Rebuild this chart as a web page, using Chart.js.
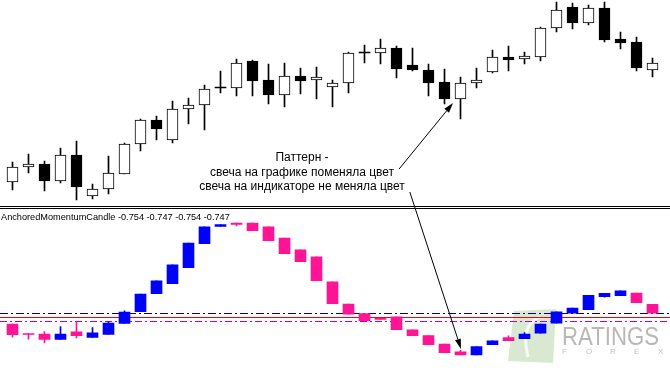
<!DOCTYPE html>
<html>
<head>
<meta charset="utf-8">
<script src="https://cdn.jsdelivr.net/npm/chart.js@4.4.1/dist/chart.umd.min.js"></script>
<style>
  html, body { margin: 0; padding: 0; background: #fff; }
  #wrap { position: relative; width: 670px; height: 370px; overflow: hidden; }
  #price { position: absolute; left: 0; top: 0; }
  #sep { position: absolute; left: 0; top: 206px; width: 670px; height: 1px;
         border-top: 1px solid #000; border-bottom: 1px solid #000; }
  #ind { position: absolute; left: 0; top: 209px; }
  #overlay { position: absolute; left: 0; top: 0; pointer-events: none; }
</style>
</head>
<body>
<div id="wrap">
  <canvas id="price" width="670" height="205"></canvas>
  <div id="sep"></div>
  <canvas id="ind" width="670" height="161"></canvas>
  <canvas id="overlay" width="670" height="370"></canvas>
</div>
<script>
// bars 1..41
const labels = Array.from({ length: 41 }, (_, i) => String(i + 1));

// price candles (top panel)
const priceOpen  = [1.3023, 1.3038, 1.3041, 1.3024, 1.3050, 1.3009, 1.3016, 1.3031, 1.3061, 1.3085, 1.3065, 1.3096, 1.3100, 1.3117, 1.3117, 1.3144, 1.3125, 1.3110, 1.3129, 1.3125, 1.3118, 1.3122, 1.3152, 1.3152, 1.3157, 1.3140, 1.3135, 1.3123, 1.3106, 1.3122, 1.3133, 1.3148, 1.3146, 1.3148, 1.3177, 1.3198, 1.3182, 1.3197, 1.3166, 1.3163, 1.3135];
const priceHigh  = [1.3043, 1.3051, 1.3044, 1.3057, 1.3064, 1.3021, 1.3049, 1.3062, 1.3086, 1.3089, 1.3104, 1.3107, 1.3120, 1.3134, 1.3146, 1.3145, 1.3141, 1.3142, 1.3137, 1.3138, 1.3125, 1.3153, 1.3160, 1.3166, 1.3159, 1.3157, 1.3141, 1.3136, 1.3128, 1.3137, 1.3155, 1.3159, 1.3153, 1.3178, 1.3203, 1.3202, 1.3200, 1.3203, 1.3173, 1.3168, 1.3147];
const priceLow   = [1.3015, 1.3032, 1.3014, 1.3022, 1.3005, 1.3006, 1.3011, 1.3031, 1.3054, 1.3065, 1.3062, 1.3081, 1.3075, 1.3112, 1.3109, 1.3109, 1.3101, 1.3098, 1.3111, 1.3106, 1.3098, 1.3112, 1.3142, 1.3141, 1.3127, 1.3134, 1.3109, 1.3101, 1.3086, 1.3117, 1.3132, 1.3134, 1.3141, 1.3144, 1.3173, 1.3176, 1.3180, 1.3163, 1.3156, 1.3134, 1.3128];
const priceClose = [1.3038, 1.3041, 1.3024, 1.3050, 1.3018, 1.3016, 1.3032, 1.3061, 1.3085, 1.3076, 1.3096, 1.3100, 1.3116, 1.3117, 1.3142, 1.3124, 1.3110, 1.3129, 1.3124, 1.3128, 1.3122, 1.3152, 1.3152, 1.3157, 1.3136, 1.3135, 1.3122, 1.3106, 1.3122, 1.3125, 1.3148, 1.3145, 1.3149, 1.3177, 1.3195, 1.3182, 1.3197, 1.3165, 1.3162, 1.3137, 1.3142];

// AnchoredMomentumCandle (bottom panel)
const indOpen  = [-0.7624, -0.7698, -0.7702, -0.7745, -0.7686, -0.7729, -0.7706, -0.7620, -0.7528, -0.7387, -0.7309, -0.7185, -0.6997, -0.6862, -0.6836, -0.6836, -0.6867, -0.6953, -0.7046, -0.7101, -0.7296, -0.7468, -0.7543, -0.7579, -0.7569, -0.7670, -0.7715, -0.7780, -0.7842, -0.7865, -0.7785, -0.7731, -0.7738, -0.7696, -0.7618, -0.7540, -0.7512, -0.7411, -0.7403, -0.7382, -0.7470];
const indHigh  = [-0.7624, -0.7698, -0.7684, -0.7645, -0.7606, -0.7653, -0.7608, -0.7522, -0.7390, -0.7288, -0.7163, -0.6992, -0.6867, -0.6849, -0.6836, -0.6836, -0.6867, -0.6953, -0.7046, -0.7101, -0.7296, -0.7468, -0.7543, -0.7579, -0.7569, -0.7670, -0.7715, -0.7780, -0.7830, -0.7801, -0.7756, -0.7717, -0.7692, -0.7624, -0.7530, -0.7499, -0.7400, -0.7384, -0.7366, -0.7382, -0.7470];
const indLow   = [-0.7727, -0.7743, -0.7770, -0.7745, -0.7733, -0.7729, -0.7706, -0.7620, -0.7528, -0.7387, -0.7309, -0.7185, -0.6997, -0.6862, -0.6859, -0.6896, -0.6974, -0.7075, -0.7138, -0.7286, -0.7465, -0.7548, -0.7598, -0.7589, -0.7668, -0.7715, -0.7785, -0.7848, -0.7865, -0.7865, -0.7785, -0.7754, -0.7738, -0.7696, -0.7618, -0.7540, -0.7512, -0.7415, -0.7403, -0.7458, -0.7540];
const indClose = [-0.7707, -0.7706, -0.7745, -0.7702, -0.7715, -0.7694, -0.7616, -0.7532, -0.7390, -0.7288, -0.7163, -0.6992, -0.6867, -0.6849, -0.6848, -0.6896, -0.6974, -0.7075, -0.7138, -0.7286, -0.7465, -0.7548, -0.7598, -0.7589, -0.7668, -0.7715, -0.7785, -0.7848, -0.7865, -0.7801, -0.7756, -0.7754, -0.7702, -0.7624, -0.7530, -0.7499, -0.7400, -0.7384, -0.7366, -0.7458, -0.7540];

// indicator levels: dash-dot navy, solid red, dashed magenta
const indLevels = [-0.754, -0.757, -0.760];
const levelStyles = [
  { color: '#000080', dash: [8, 3, 2, 3] },
  { color: '#ff0000', dash: [] },
  { color: '#c000c0', dash: [7, 3, 2, 3] }
];

const indTitle = 'AnchoredMomentumCandle -0.754 -0.747 -0.754 -0.747';
const noteLines = ['Паттерн -', 'свеча на графике поменяла цвет', 'свеча на индикаторе не меняла цвет'];

const UP_IND = '#0000ff';
const DN_IND = '#ff1493';

const baseOptions = (yMin, yMax) => ({
  responsive: false,
  animation: false,
  events: [],
  layout: { padding: { left: 4.5, right: 9.5, top: 0, bottom: 0 } },
  plugins: { legend: { display: false }, tooltip: { enabled: false } },
  scales: {
    x: { display: false },
    y: { display: false, min: yMin, max: yMax }
  }
});

// white body for up candles, black for down and for dojis (drawn as a line)
const bodyColors = labels.map((_, i) => priceClose[i] > priceOpen[i] ? '#fff' : '#000');

// top panel: price candles
const priceChart = new Chart(document.getElementById('price'), {
  type: 'bar',
  data: {
    labels: labels,
    datasets: [
      {
        data: labels.map((_, i) => [priceLow[i], priceHigh[i]]),
        backgroundColor: '#000',
        barThickness: 1,
        grouped: false,
        order: 2
      },
      {
        data: labels.map((_, i) => [priceOpen[i], priceClose[i]]),
        backgroundColor: bodyColors,
        borderColor: '#000',
        borderWidth: labels.map((_, i) => priceClose[i] === priceOpen[i] ? 0 : 1),
        borderSkipped: false,
        barThickness: 11,
        minBarLength: 1,
        grouped: false,
        order: 1
      }
    ]
  },
  options: baseOptions(1.3000, 1.3205)
});

// levels + header + watermark for the indicator panel
const indDecor = {
  id: 'indDecor',
  beforeDatasetsDraw(chart) {
    const ctx = chart.ctx;
    const y = chart.scales.y;
    const w = chart.width;
    ctx.save();

    // watermark logo
    ctx.fillStyle = 'rgba(120, 175, 90, 0.28)';
    ctx.beginPath();
    ctx.moveTo(514, 102);
    ctx.lineTo(556, 100);
    ctx.lineTo(553, 154);
    ctx.lineTo(508, 152);
    ctx.closePath();
    ctx.fill();
    ctx.strokeStyle = 'rgba(255, 255, 255, 0.8)';
    ctx.lineWidth = 3;
    ctx.beginPath();
    ctx.moveTo(528, 148);
    ctx.quadraticCurveTo(520, 115, 540, 108);
    ctx.stroke();

    ctx.fillStyle = '#b8b8b8';
    ctx.font = '26px "Liberation Sans"';
    ctx.textBaseline = 'alphabetic';
    ctx.fillText('RATINGS', 562, 136, 97);
    ctx.font = '8px "Liberation Sans"';
    ctx.fillStyle = '#c4c4c4';
    'FOREX'.split('').forEach((ch, k) => ctx.fillText(ch, 562 + k * 24, 145));

    // levels
    indLevels.forEach((lv, k) => {
      const py = Math.round(y.getPixelForValue(lv)) + 0.5;
      ctx.strokeStyle = levelStyles[k].color;
      ctx.lineWidth = 1;
      ctx.setLineDash(levelStyles[k].dash);
      ctx.beginPath();
      ctx.moveTo(0, py);
      ctx.lineTo(w, py);
      ctx.stroke();
    });
    ctx.setLineDash([]);

    // indicator name and values
    ctx.fillStyle = '#000';
    ctx.font = '9.2px "Liberation Sans"';
    ctx.fillText(indTitle, 1, 11);
    ctx.restore();
  }
};

const indColors = labels.map((_, i) => indClose[i] > indOpen[i] ? UP_IND : DN_IND);

// bottom panel: indicator candles
const indChart = new Chart(document.getElementById('ind'), {
  type: 'bar',
  data: {
    labels: labels,
    datasets: [
      {
        data: labels.map((_, i) => [indLow[i], indHigh[i]]),
        backgroundColor: indColors,
        barThickness: 1,
        grouped: false,
        order: 2
      },
      {
        data: labels.map((_, i) => [indOpen[i], indClose[i]]),
        backgroundColor: indColors,
        borderWidth: 0,
        barThickness: 11,
        minBarLength: 1,
        grouped: false,
        order: 1
      }
    ]
  },
  options: baseOptions(-0.7983, -0.6727),
  plugins: [indDecor]
});

// annotation text and arrows over both panels
function drawArrow(ctx, x0, y0, x1, y1) {
  const ang = Math.atan2(y1 - y0, x1 - x0);
  const len = 10, half = 3;
  ctx.beginPath();
  ctx.moveTo(x0, y0);
  ctx.lineTo(x1 - Math.cos(ang) * len, y1 - Math.sin(ang) * len);
  ctx.stroke();
  ctx.beginPath();
  ctx.moveTo(x1, y1);
  ctx.lineTo(x1 - Math.cos(ang) * len - Math.sin(ang) * half, y1 - Math.sin(ang) * len + Math.cos(ang) * half);
  ctx.lineTo(x1 - Math.cos(ang) * len + Math.sin(ang) * half, y1 - Math.sin(ang) * len - Math.cos(ang) * half);
  ctx.closePath();
  ctx.fill();
}

const ov = document.getElementById('overlay').getContext('2d');
ov.fillStyle = '#000';
ov.strokeStyle = '#000';
ov.lineWidth = 1;
ov.font = '12px "Liberation Sans"';
ov.textAlign = 'center';
const noteX = 302;
const noteY = [161, 176, 190];
noteLines.forEach((t, k) => ov.fillText(t, noteX, noteY[k]));

const pIdx = 28;
const tip1x = priceChart.scales.x.getPixelForValue(pIdx) - 7.5;
const tip1y = priceChart.scales.y.getPixelForValue(priceOpen[pIdx]) + 4;
const end2 = noteX + ov.measureText(noteLines[1]).width / 2;
drawArrow(ov, end2 + 5, noteY[1] - 7, tip1x, tip1y);

const indTop = 209;
const tip2x = indChart.scales.x.getPixelForValue(pIdx) + 0.5;
const tip2y = indTop + indChart.scales.y.getPixelForValue(indHigh[pIdx]) - 1.5;
const end3 = noteX + ov.measureText(noteLines[2]).width / 2;
drawArrow(ov, end3 + 5, noteY[2] + 2, tip2x, tip2y);
</script>
</body>
</html>
